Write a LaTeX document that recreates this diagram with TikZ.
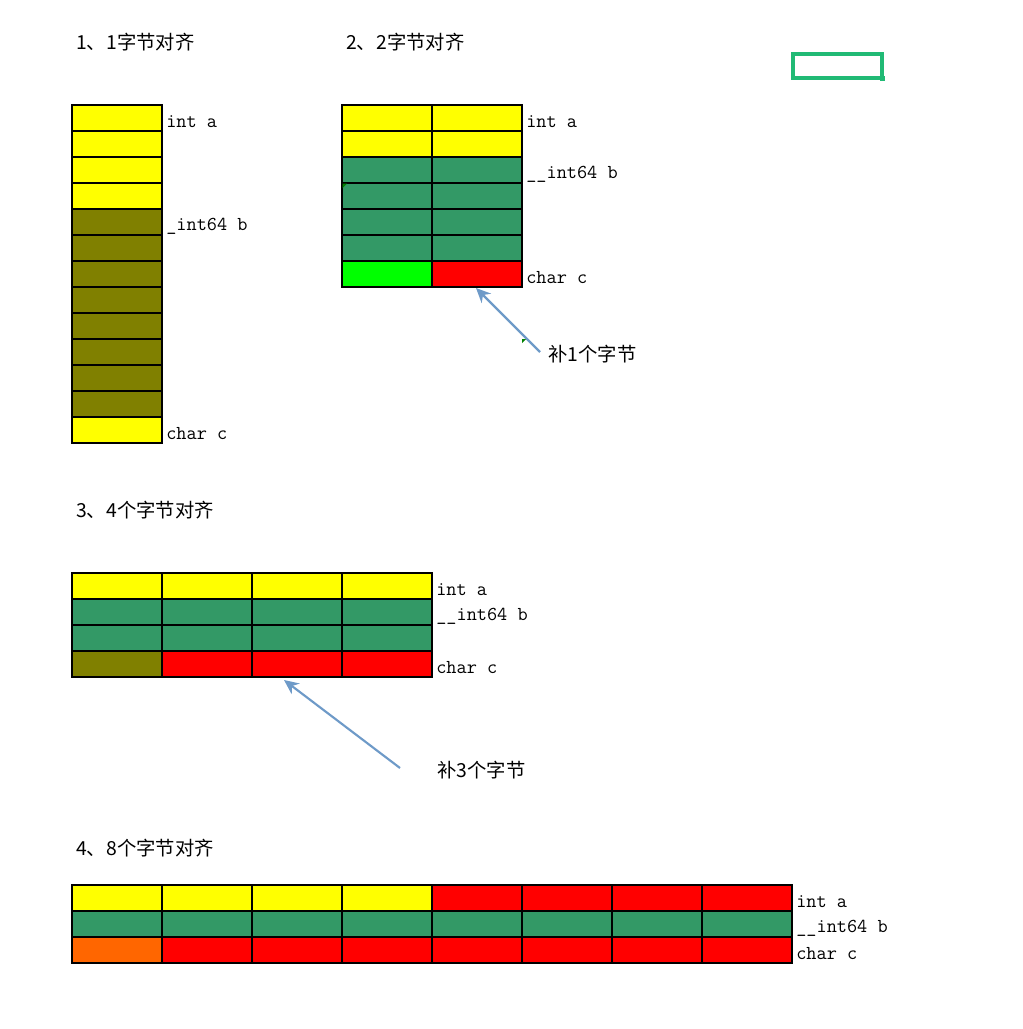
\documentclass[tikz,border=0pt]{standalone}
\usepackage{fontspec}
\newfontfamily\cjk{Noto Sans CJK SC}
\usetikzlibrary{arrows.meta}
\definecolor{cyel}{HTML}{FFFF00}
\definecolor{colv}{HTML}{808000}
\definecolor{cgrn}{HTML}{339966}
\definecolor{clim}{HTML}{00FF00}
\definecolor{cred}{HTML}{FF0000}
\definecolor{corg}{HTML}{FF6600}
\definecolor{carrow}{HTML}{6E9AC8}
\definecolor{csel}{HTML}{21BA75}
\definecolor{cmark}{HTML}{008000}
\newcommand\memrow[3]{%
  \foreach \c [count=\i from 0] in {#3} {
    \filldraw[fill=\c, draw=black, line width=0.8pt] ({#1+90*\i},#2) rectangle ++(90,26);
  }%
}
\tikzset{
  title/.style={anchor=west, inner sep=0pt, font=\cjk\fontsize{14.5}{17}\selectfont},
  lbl/.style={anchor=west, inner sep=0pt, font=\ttfamily\fontsize{14.8}{17}\selectfont},
  note/.style={anchor=west, inner sep=0pt, font=\cjk\fontsize{14.5}{17}\selectfont},
  pointer/.style={draw=carrow, line width=1.6pt, -{Stealth[length=11pt,width=10pt]}},
}
\begin{document}
\begin{tikzpicture}[x=0.75pt,y=-0.75pt]
\useasboundingbox (0,0) rectangle (1023,1029);
% titles
\node[title] (t1) at (76,42) {1、1字节对齐};
\node[title] (t2) at (346,42) {2、2字节对齐};
\node[title] (t3) at (76,510) {3、4个字节对齐};
\node[title] (t4) at (76,848) {4、8个字节对齐};
% selection box
\draw[csel, line width=2.3pt] (793,54) rectangle (882,78);
\fill[csel] (880,76) rectangle (885,81);
% diagram 1
\foreach \r in {0,...,3} { \memrow{72}{105+26*\r}{cyel} }
\foreach \r in {4,...,11} { \memrow{72}{105+26*\r}{colv} }
\memrow{72}{417}{cyel}
\node[lbl] (a1) at (166,122) {int a};
\node[lbl] (b1) at (166,226) {\_int64 b};
\node[lbl] (c1) at (166,434) {char c};
% diagram 2
\foreach \r in {0,1} { \memrow{342}{105+26*\r}{cyel,cyel} }
\foreach \r in {2,...,5} { \memrow{342}{105+26*\r}{cgrn,cgrn} }
\memrow{342}{261}{clim,cred}
\fill[cmark] (342.5,183.5) -- (347,183.5) -- (342.5,188) -- cycle;
\node[lbl] (a2) at (526,122) {int a};
\node[lbl] (b2) at (526,174) {\_\_int64 b};
\node[lbl] (c2) at (526,278) {char c};
\node[note] (p1) at (548,354) {补1个字节};
\coordinate (e1) at (476,288);
\draw[pointer] (540,352) -- (e1);
\fill[cmark] (522,339) -- (526,339) -- (522,343) -- cycle;
% diagram 3
\memrow{72}{573}{cyel,cyel,cyel,cyel}
\memrow{72}{599}{cgrn,cgrn,cgrn,cgrn}
\memrow{72}{625}{cgrn,cgrn,cgrn,cgrn}
\memrow{72}{651}{colv,cred,cred,cred}
\node[lbl] (a3) at (436,590) {int a};
\node[lbl] (b3) at (436,616) {\_\_int64 b};
\node[lbl] (c3) at (436,668) {char c};
\node[note] (p3) at (437,770) {补3个字节};
\coordinate (e3) at (284,680);
\draw[pointer] (400,768) -- (e3);
% diagram 4
\memrow{72}{885}{cyel,cyel,cyel,cyel,cred,cred,cred,cred}
\memrow{72}{911}{cgrn,cgrn,cgrn,cgrn,cgrn,cgrn,cgrn,cgrn}
\memrow{72}{937}{corg,cred,cred,cred,cred,cred,cred,cred}
\node[lbl] (a4) at (796,902) {int a};
\node[lbl] (b4) at (796,928) {\_\_int64 b};
\node[lbl] (c4) at (796,954) {char c};
\end{tikzpicture}
\end{document}
